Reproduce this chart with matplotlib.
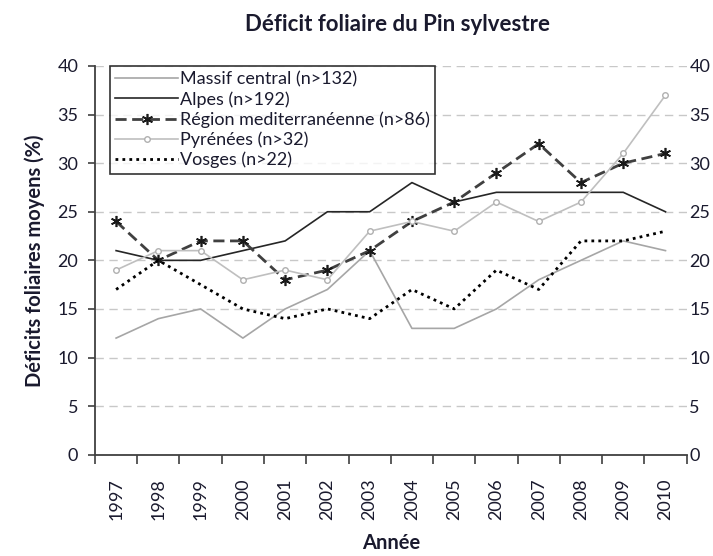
import numpy as np
import matplotlib.pyplot as plt

# data
annees = ['1997', '1998', '1999', '2000', '2001', '2002', '2003',
          '2004', '2005', '2006', '2007', '2008', '2009', '2010']
massif_central = [12, 14, 15, 12, 15, 17, 21, 13, 13, 15, 18, 20, 22, 21]
alpes          = [21, 20, 20, 21, 22, 25, 25, 28, 26, 27, 27, 27, 27, 25]
mediterranee   = [24, 20, 22, 22, 18, 19, 21, 24, 26, 29, 32, 28, 30, 31]
pyrenees       = [19, 21, 21, 18, 19, 18, 23, 24, 23, 26, 24, 26, 31, 37]
vosges         = [17, 20, 17.5, 15, 14, 15, 14, 17, 15, 19, 17, 22, 22, 23]
yticks = np.arange(0, 41, 5)

plt.rcParams['font.family'] = ['Lato', 'DejaVu Sans']
txt = '#1a1a2e'

fig = plt.figure(figsize=(7.13, 5.56), dpi=100)
ax = fig.add_axes([0.1332, 0.1822, 0.8298, 0.6991])

x = np.arange(len(annees)) + 0.5

ax.plot(x, massif_central, color='#a6a6a6', lw=1.2, label='Massif central (n>132)')
ax.plot(x, alpes, color='#262626', lw=1.2, label='Alpes (n>192)')
ax.plot(x, mediterranee, color='#404040', lw=2.0, ls=(0, (4, 2)),
        marker=(6, 2, 0), ms=8, mec='#1a1a1a', mew=1.2,
        label='Région mediterranéenne (n>86)')
ax.plot(x, pyrenees, color='#bfbfbf', lw=1.2, marker='o', ms=4,
        mfc='white', mec='#b0b0b0', mew=1.0, label='Pyrénées (n>32)')
ax.plot(x, vosges, color='black', lw=2.0, ls=(0, (1, 1.5)),
        label='Vosges (n>22)')

ax.set_xlim(0, len(annees))
ax.set_ylim(0, 40)
ax.set_yticks(yticks)
ax.set_xticks(np.arange(len(annees) + 1))
ax.set_xticklabels([])
ax.set_xticks(x, minor=True)
ax.set_xticklabels(annees, minor=True, rotation=90)

ax.yaxis.grid(True, ls=(0, (6, 4)), color='#c8c8c8', lw=1.0)
ax.set_axisbelow(True)

for s in ['top', 'right']:
    ax.spines[s].set_visible(False)
for s in ['left', 'bottom']:
    ax.spines[s].set_color('#404040')
    ax.spines[s].set_linewidth(1.3)

ax.tick_params(axis='y', which='major', direction='out', length=5, width=1.2,
               color='#404040', pad=7, labelsize=13, labelcolor=txt)
ax.tick_params(axis='x', which='major', direction='out', length=6.5, width=1.2,
               color='#404040')
ax.tick_params(axis='x', which='minor', length=0, pad=17, labelsize=13,
               labelcolor=txt)

# right-hand labels
ax2 = ax.twinx()
ax2.set_ylim(ax.get_ylim())
ax2.set_yticks(yticks)
for s in ax2.spines.values():
    s.set_visible(False)
ax2.tick_params(axis='y', length=0, pad=2, labelsize=13, labelcolor=txt)

ax.set_ylabel('Déficits foliaires moyens (%)', fontsize=14.5, fontweight='bold',
              color=txt, labelpad=9)
ax.set_xlabel('Année', fontsize=14.5, fontweight='bold', color=txt, labelpad=9)
fig.suptitle('Déficit foliaire du Pin sylvestre', x=0.557, y=0.975,
             fontsize=16, fontweight='bold', color=txt)

leg = ax.legend(loc='upper left', bbox_to_anchor=(0.025, 1.0), borderaxespad=0,
                fancybox=False, edgecolor='black', fontsize=13,
                handlelength=3.5, handletextpad=0.1, labelspacing=0.2,
                borderpad=0.3, labelcolor=txt)
leg.get_frame().set_linewidth(1.2)

fig.savefig('out.png', dpi=100)
